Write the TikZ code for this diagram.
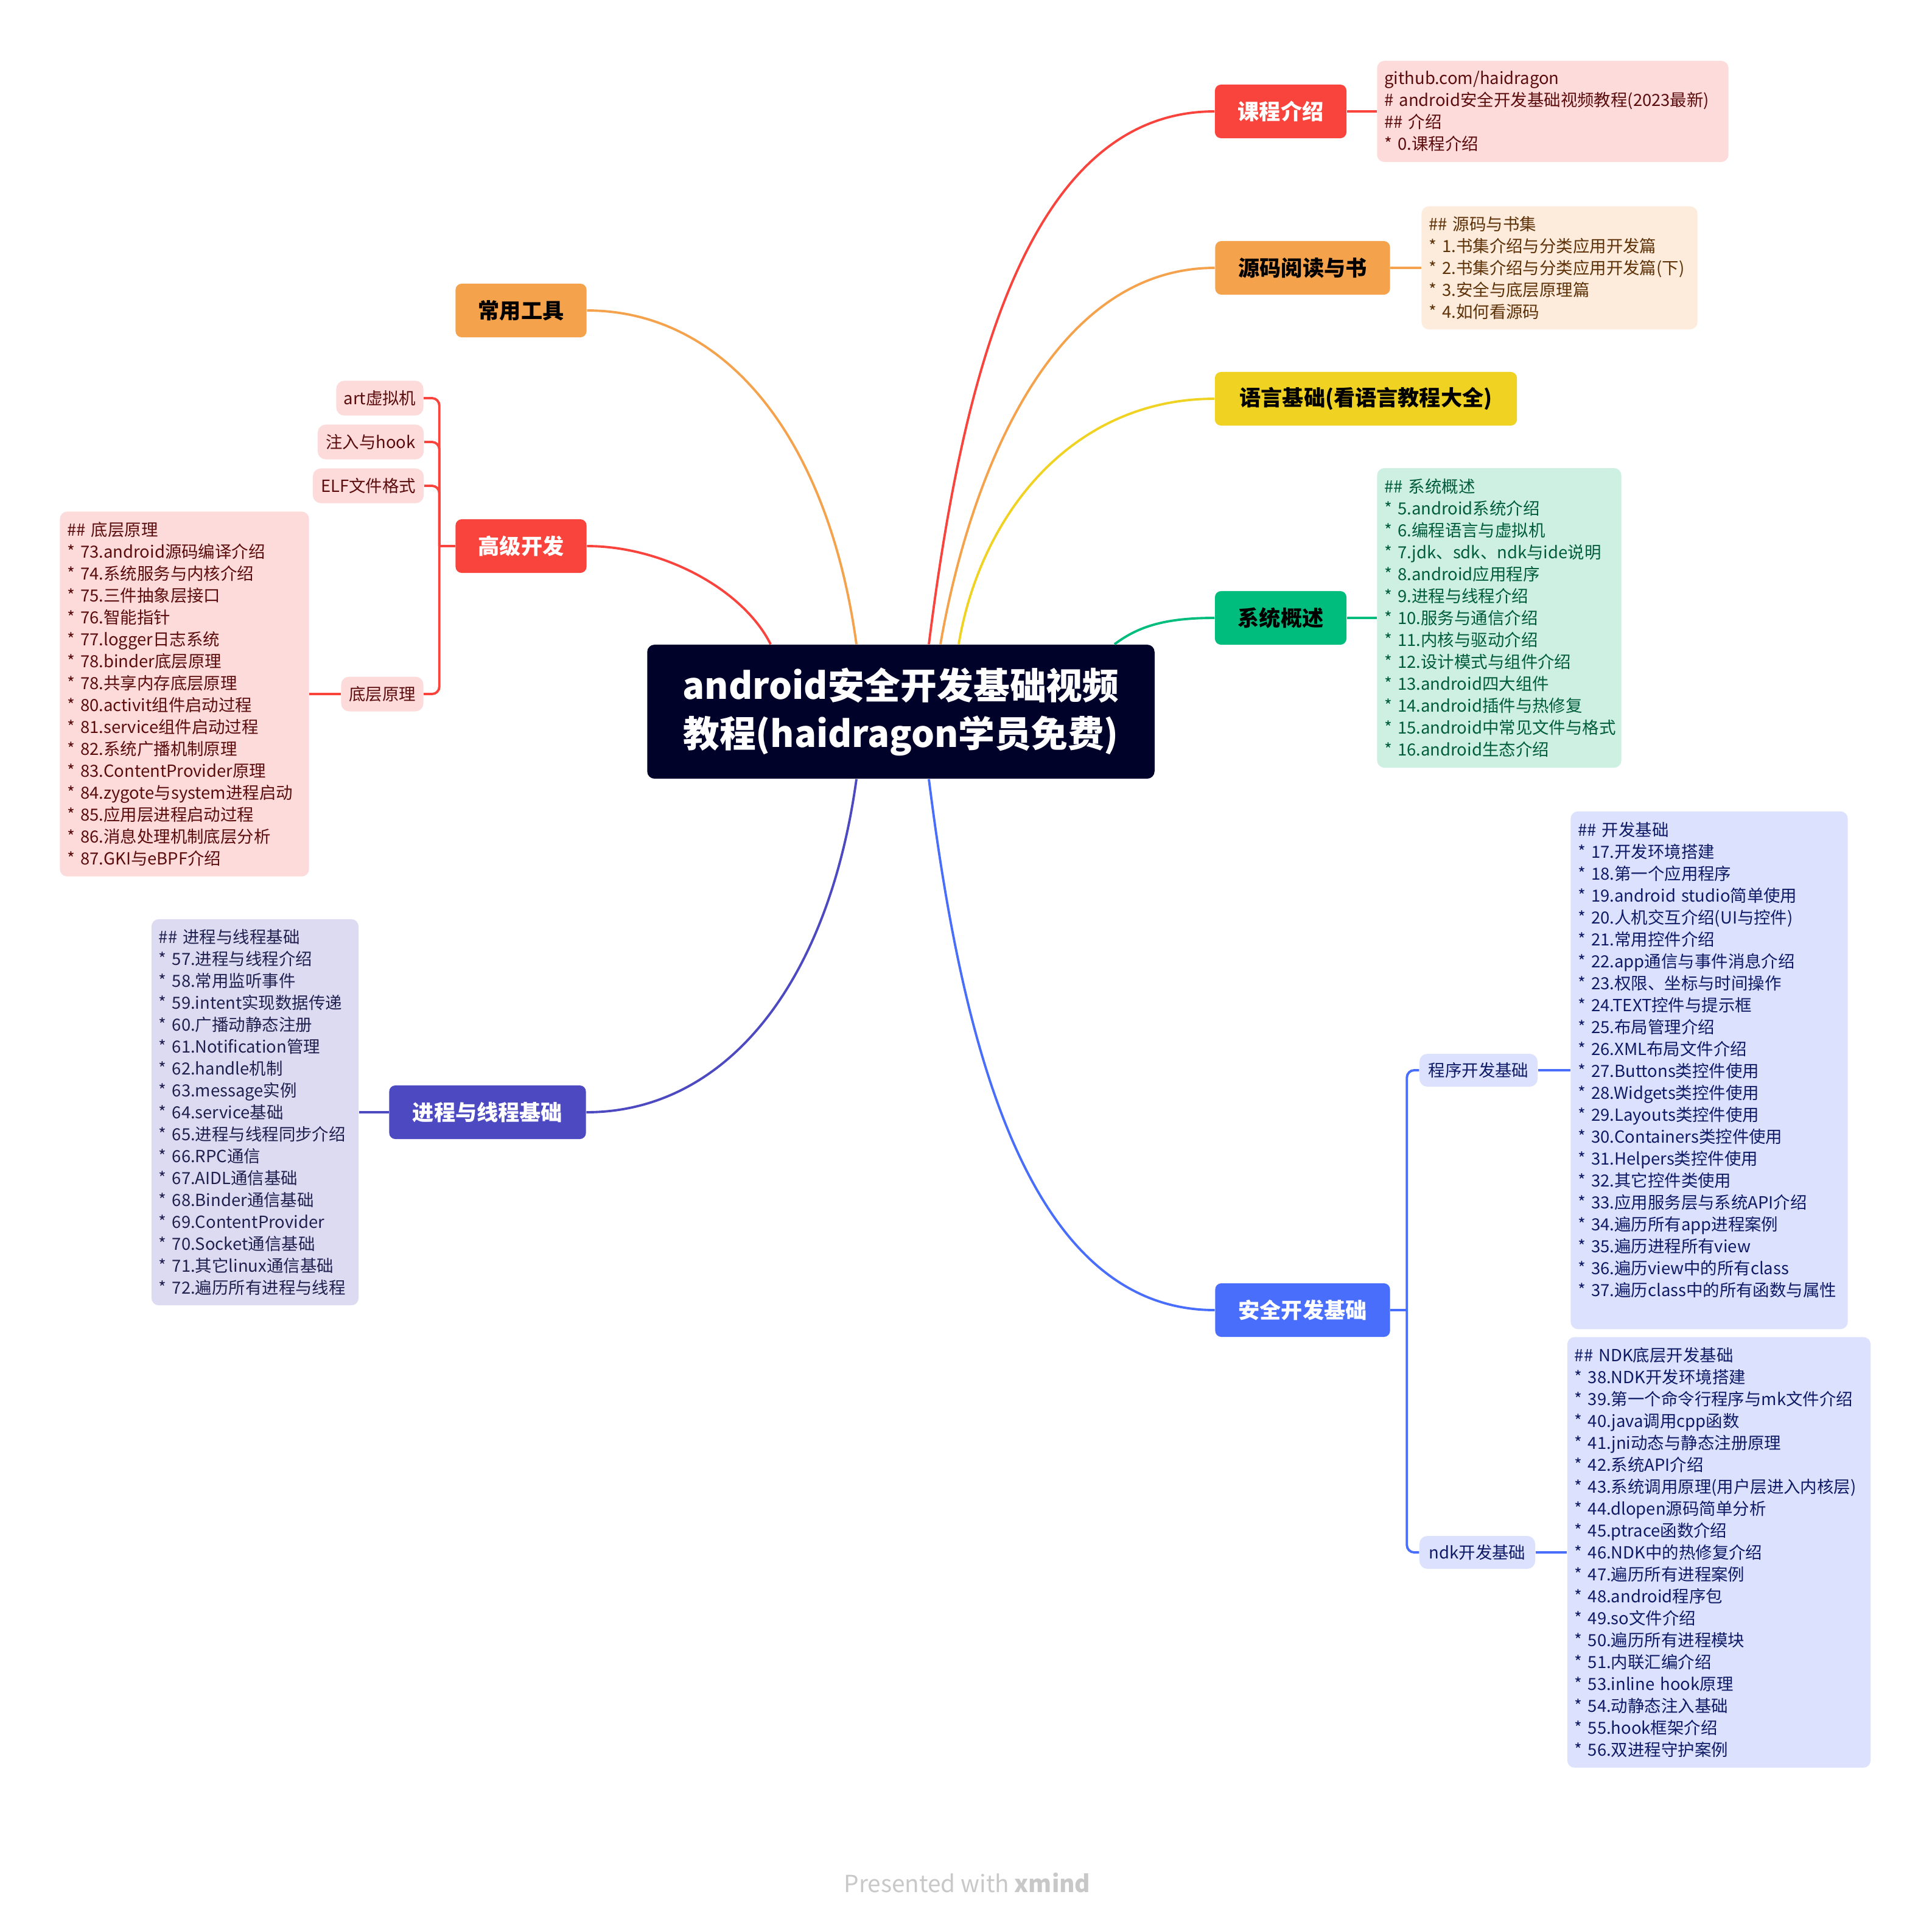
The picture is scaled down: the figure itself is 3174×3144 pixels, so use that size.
\documentclass[tikz,border=0pt]{standalone}
\usepackage{fontspec}
\setmainfont{Noto Sans CJK SC}
\usetikzlibrary{calc}
\lefthyphenmin=64

\newcommand{\bul}{\mbox{*}~}

\definecolor{rootc}{HTML}{00022A}
\definecolor{cred}{HTML}{F9443D}
\definecolor{corg}{HTML}{F5A24D}
\definecolor{cyel}{HTML}{F0D322}
\definecolor{cgrn}{HTML}{00BD7D}
\definecolor{cblu}{HTML}{4A6EFC}
\definecolor{cpur}{HTML}{4D4AC1}
\definecolor{rednote}{HTML}{FDDBDB}
\definecolor{orgnote}{HTML}{FDEBDC}
\definecolor{grnnote}{HTML}{CDF0E3}
\definecolor{blunote}{HTML}{DCE2FD}
\definecolor{purnote}{HTML}{DCDBF2}
\definecolor{redtxt}{HTML}{5B0C0C}
\definecolor{orgtxt}{HTML}{5E3208}
\definecolor{grntxt}{HTML}{005C3D}
\definecolor{blutxt}{HTML}{0F1A66}
\definecolor{purtxt}{HTML}{20204F}
\definecolor{footc}{HTML}{C8C8C8}

\begin{document}
\begin{tikzpicture}[x=0.01cm, y=-0.01cm,
    topic/.style={rounded corners=0.1cm, inner sep=0pt, minimum height=0.88cm, font=\fontsize{10}{12}\selectfont\bfseries},
    note/.style={rounded corners=0.12cm, inner xsep=0.12cm, inner ysep=0pt, align=left, font=\fontsize{7.8}{10.24}\selectfont},
    leaf/.style={rounded corners=0.13cm, inner sep=0pt, minimum height=0.57cm, font=\fontsize{7.8}{9}\selectfont},
    branch/.style={line width=1.1pt},
  ]
    \useasboundingbox (0,0) rectangle (3174,3144);

    \node[fill=rootc, text=white, rounded corners=0.12cm, minimum width=8.33cm, minimum height=2.2cm,
      align=center, font=\fontsize{17}{22.5}\selectfont\bfseries] (root) at (1480,1169)
      {android安全开发基础视频\\教程(haidragon学员免费)};

    % right side
    \node[topic, fill=cred, text=white, minimum width=2.16cm] (kcjs) at (2104,183) {课程介绍};
    \node[topic, fill=corg, text=black, minimum width=2.87cm] (ymyd) at (2140,440) {源码阅读与书};
    \node[topic, fill=cyel, text=black, minimum width=4.96cm] (yyjc) at (2244,655) {语言基础(看语言教程大全)};
    \node[topic, fill=cgrn, text=black, minimum width=2.16cm] (xtgs) at (2104,1015) {系统概述};
    \node[topic, fill=cblu, text=white, minimum width=2.87cm] (aqkf) at (2140,2152) {安全开发基础};

    % left side
    \node[topic, fill=corg, text=black, minimum width=2.15cm] (cygj) at (856,510) {常用工具};
    \node[topic, fill=cred, text=white, minimum width=2.15cm] (gjkf) at (856,897) {高级开发};
    \node[topic, fill=cpur, text=white, minimum width=3.23cm] (jcxc) at (801,1827) {进程与线程基础};

    \node[leaf, fill=rednote, text=redtxt, minimum width=1.43cm] (art) at (624,654) {art虚拟机};
    \node[leaf, fill=rednote, text=redtxt, minimum width=1.74cm] (zrhk) at (609,726) {注入与hook};
    \node[leaf, fill=rednote, text=redtxt, minimum width=1.82cm] (elf) at (605,798) {ELF文件格式};
    \node[leaf, fill=rednote, text=redtxt, minimum width=1.35cm] (dcyl) at (628,1140) {底层原理};

    \node[leaf, fill=blunote, text=blutxt, minimum width=1.94cm, minimum height=0.54cm] (cxkf) at (2429,1758) {程序开发基础};
    \node[leaf, fill=blunote, text=blutxt, minimum width=1.9cm, minimum height=0.54cm] (ndkkf) at (2427,2550) {ndk开发基础};

    \node[note, fill=rednote, text=redtxt, text width=5.53cm, minimum height=1.66cm] (kcjsnote) at (2551,183) {%
      github.com/haidragon\\
      \#~android安全开发基础视频教程(2023最新)\\
      \#\#~介绍\\
      \bul 0.课程介绍};
    \node[note, fill=orgnote, text=orgtxt, text width=4.29cm, minimum height=2.02cm] (ymnote) at (2562,440) {%
      \#\#~源码与书集\\
      \bul 1.书集介绍与分类应用开发篇\\
      \bul 2.书集介绍与分类应用开发篇(下)\\
      \bul 3.安全与底层原理篇\\
      \bul 4.如何看源码};
    \node[note, fill=grnnote, text=grntxt, text width=3.77cm, minimum height=4.92cm] (xtnote) at (2463,1015) {%
      \#\#~系统概述\\
      \bul 5.android系统介绍\\
      \bul 6.编程语言与虚拟机\\
      \bul 7.jdk、sdk、ndk与ide说明\\
      \bul 8.android应用程序\\
      \bul 9.进程与线程介绍\\
      \bul 10.服务与通信介绍\\
      \bul 11.内核与驱动介绍\\
      \bul 12.设计模式与组件介绍\\
      \bul 13.android四大组件\\
      \bul 14.android插件与热修复\\
      \bul 15.android中常见文件与格式\\
      \bul 16.android生态介绍};
    \node[note, fill=blunote, text=blutxt, text width=4.31cm, minimum height=8.5cm] (kfnote) at (2808,1758) {%
      \#\#~开发基础\\
      \bul 17.开发环境搭建\\
      \bul 18.第一个应用程序\\
      \bul 19.android~studio简单使用\\
      \bul 20.人机交互介绍(UI与控件)\\
      \bul 21.常用控件介绍\\
      \bul 22.app通信与事件消息介绍\\
      \bul 23.权限、坐标与时间操作\\
      \bul 24.TEXT控件与提示框\\
      \bul 25.布局管理介绍\\
      \bul 26.XML布局文件介绍\\
      \bul 27.Buttons类控件使用\\
      \bul 28.Widgets类控件使用\\
      \bul 29.Layouts类控件使用\\
      \bul 30.Containers类控件使用\\
      \bul 31.Helpers类控件使用\\
      \bul 32.其它控件类使用\\
      \bul 33.应用服务层与系统API介绍\\
      \bul 34.遍历所有app进程案例\\
      \bul 35.遍历进程所有view\\
      \bul 36.遍历view中的所有class\\
      \bul 37.遍历class中的所有函数与属性\\
      ~};
    \node[note, fill=blunote, text=blutxt, text width=4.74cm, minimum height=7.07cm] (ndknote) at (2824,2550) {%
      \#\#~NDK底层开发基础\\
      \bul 38.NDK开发环境搭建\\
      \bul 39.第一个命令行程序与mk文件介绍\\
      \bul 40.java调用cpp函数\\
      \bul 41.jni动态与静态注册原理\\
      \bul 42.系统API介绍\\
      \bul 43.系统调用原理(用户层进入内核层)\\
      \bul 44.dlopen源码简单分析\\
      \bul 45.ptrace函数介绍\\
      \bul 46.NDK中的热修复介绍\\
      \bul 47.遍历所有进程案例\\
      \bul 48.android程序包\\
      \bul 49.so文件介绍\\
      \bul 50.遍历所有进程模块\\
      \bul 51.内联汇编介绍\\
      \bul 53.inline~hook原理\\
      \bul 54.动静态注入基础\\
      \bul 55.hook框架介绍\\
      \bul 56.双进程守护案例};
    \node[note, fill=rednote, text=redtxt, text width=3.85cm, minimum height=5.99cm] (dcnote) at (303,1140) {%
      \#\#~底层原理\\
      \bul 73.android源码编译介绍\\
      \bul 74.系统服务与内核介绍\\
      \bul 75.三件抽象层接口\\
      \bul 76.智能指针\\
      \bul 77.logger日志系统\\
      \bul 78.binder底层原理\\
      \bul 78.共享内存底层原理\\
      \bul 80.activit组件启动过程\\
      \bul 81.service组件启动过程\\
      \bul 82.系统广播机制原理\\
      \bul 83.ContentProvider原理\\
      \bul 84.zygote与system进程启动\\
      \bul 85.应用层进程启动过程\\
      \bul 86.消息处理机制底层分析\\
      \bul 87.GKI与eBPF介绍};
    \node[note, fill=purnote, text=purtxt, text width=3.16cm, minimum height=6.34cm] (jcnote) at (419,1827) {%
      \#\#~进程与线程基础\\
      \bul 57.进程与线程介绍\\
      \bul 58.常用监听事件\\
      \bul 59.intent实现数据传递\\
      \bul 60.广播动静态注册\\
      \bul 61.Notification管理\\
      \bul 62.handle机制\\
      \bul 63.message实例\\
      \bul 64.service基础\\
      \bul 65.进程与线程同步介绍\\
      \bul 66.RPC通信\\
      \bul 67.AIDL通信基础\\
      \bul 68.Binder通信基础\\
      \bul 69.ContentProvider\\
      \bul 70.Socket通信基础\\
      \bul 71.其它linux通信基础\\
      \bul 72.遍历所有进程与线程};

    \node[text=footc, font=\fontsize{11}{13}\selectfont] (foot) at (1589,3093) {Presented with \textbf{xmind}};

    % curves from the root
    \draw[branch, cred] ($(root.north)+(46,0)$) .. controls +(54,-430) and +(-310,0) .. (kcjs.west);
    \draw[branch, corg] ($(root.north)+(65,0)$) .. controls +(45,-260) and +(-276,0) .. (ymyd.west);
    \draw[branch, cyel] ($(root.north)+(95,0)$) .. controls +(35,-210) and +(-236,0) .. (yyjc.west);
    \draw[branch, cgrn] ($(root.north)+(351,0)$) .. controls +(40,-30) and +(-80,0) .. (xtgs.west);
    \draw[branch, cblu] ($(root.south)+(46,0)$) .. controls +(54,430) and +(-310,0) .. (aqkf.west);
    \draw[branch, corg] ($(root.north)+(-73,0)$) .. controls +(-47,-340) and +(227,0) .. (cygj.east);
    \draw[branch, cred] ($(root.north)+(-214,0)$) .. controls +(-45,-90) and +(125,0) .. (gjkf.east);
    \draw[branch, cpur] ($(root.south)+(-73,0)$) .. controls +(-47,340) and +(227,0) .. (jcxc.east);

    % topics to notes
    \draw[branch, cred] (kcjs.east) -- (kcjsnote.west);
    \draw[branch, corg] (ymyd.east) -- (ymnote.west);
    \draw[branch, cgrn] (xtgs.east) -- (xtnote.west);
    \draw[branch, cpur] (jcxc.west) -- (jcnote.east);
    \draw[branch, cred] (dcyl.west) -- (dcnote.east);
    \draw[branch, cblu] (cxkf.east) -- (kfnote.west);
    \draw[branch, cblu] (ndkkf.east) -- (ndknote.west);

    % brackets
    \draw[branch, cred] (gjkf.west) -- ++(-26,0);
    \draw[branch, cred, rounded corners=0.12cm] (art.east) -| ($(gjkf.west)+(-26,0)$) |- (dcyl.east);
    \draw[branch, cred, rounded corners=0.12cm] (zrhk.east) -| ($(gjkf.west)+(-26,0)$);
    \draw[branch, cred, rounded corners=0.12cm] (elf.east) -| ($(gjkf.west)+(-26,0)$);
    \draw[branch, cblu] (aqkf.east) -- ++(27,0);
    \draw[branch, cblu, rounded corners=0.12cm] (cxkf.west) -| ($(aqkf.east)+(27,0)$) |- (ndkkf.west);
\end{tikzpicture}
\end{document}
